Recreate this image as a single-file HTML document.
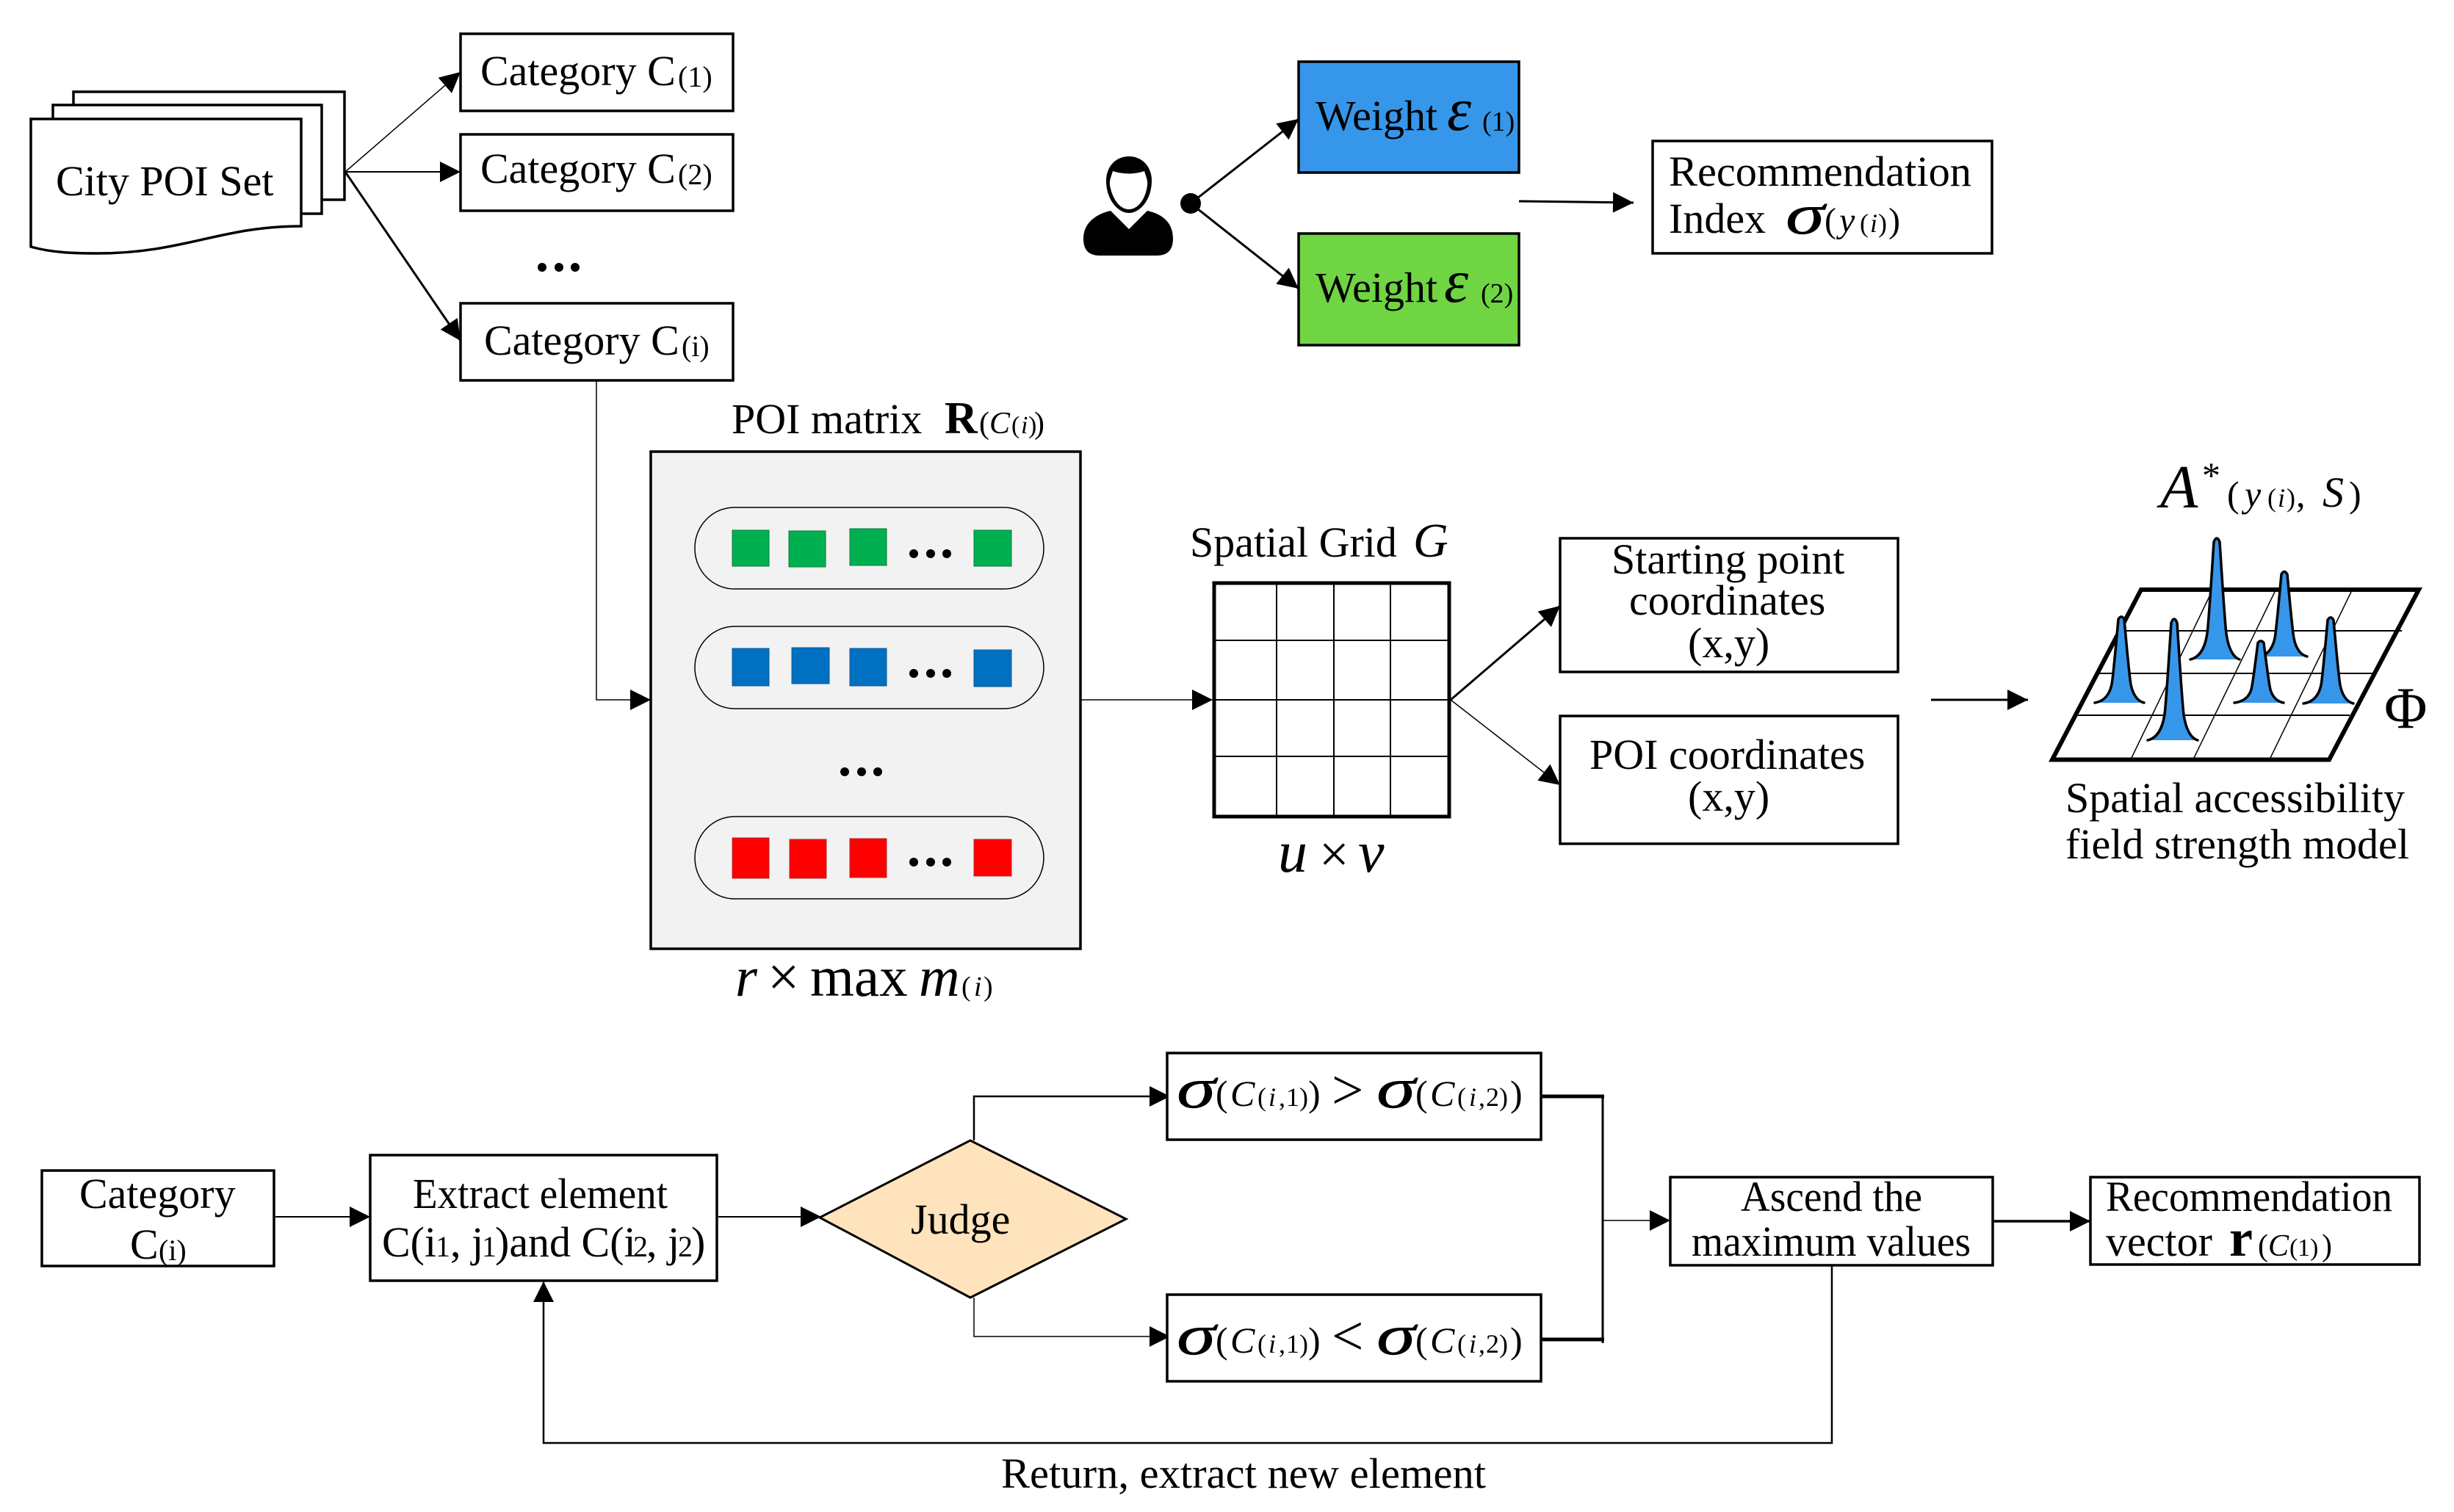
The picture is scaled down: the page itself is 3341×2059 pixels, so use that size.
<!DOCTYPE html>
<html><head><meta charset="utf-8">
<style>
html,body{margin:0;padding:0;background:#fff}
svg{display:block}
text{font-family:"Liberation Serif","Times New Roman",serif;fill:#000;font-size:58px}
.s{font-size:40px}.i{font-style:italic}.b{font-weight:bold}
.m{font-style:italic;font-size:78px;stroke:#000;stroke-width:.5}
.c{font-style:italic;font-size:50px}.p{font-size:50px}.q{font-size:36px}.qi{font-size:36px;font-style:italic}
.box{fill:#fff;stroke:#000;stroke-width:3.5}
.l{fill:none;stroke:#000}
.sp{fill:#3696E9;stroke:#000;stroke-width:3.5;stroke-linecap:round}
.sp path{vector-effect:non-scaling-stroke}
</style></head><body>
<svg width="3341" height="2059" viewBox="0 0 3341 2059" xmlns="http://www.w3.org/2000/svg">
<defs>
<marker id="a" markerUnits="userSpaceOnUse" markerWidth="30" markerHeight="30" refX="29" refY="15" orient="auto" viewBox="0 0 30 30"><path d="M1,1 L29,15 L1,29Z" fill="#000"/></marker>
</defs>
<rect width="3341" height="2059" fill="#fff"/>

<!-- city POI stack -->
<rect class="box" x="100" y="125" width="369" height="147"/>
<rect class="box" x="72" y="143" width="366" height="148"/>
<path class="box" d="M42,162 H410 V308 C300,308 250,345 133,345 C100,345 70,344 42,336Z"/>
<text x="76" y="266">City POI Set</text>

<!-- categories -->
<rect class="box" x="627" y="46" width="371" height="105"/>
<rect class="box" x="627" y="183" width="371" height="104"/>
<rect class="box" x="627" y="413" width="371" height="105"/>
<text x="654" y="116">Category C</text><text class="s" x="923" y="118">(1)</text>
<text x="654" y="249">Category C</text><text class="s" x="923" y="251">(2)</text>
<text x="659" y="483">Category C</text><text class="s" x="928" y="485">(i)</text>
<circle cx="738" cy="364" r="6"/><circle cx="761" cy="364" r="6"/><circle cx="783" cy="364" r="6"/>
<line class="l" stroke-width="1.5" x1="470" y1="234" x2="627" y2="98" marker-end="url(#a)"/>
<line class="l" stroke-width="2" x1="470" y1="234" x2="627" y2="234" marker-end="url(#a)"/>
<line class="l" stroke-width="3" x1="470" y1="234" x2="627" y2="464" marker-end="url(#a)"/>

<!-- user -->
<path d="M1512,287 L1537,312 L1562,287 C1585,292 1597,305 1597,325 C1597,340 1590,348 1575,348 L1497,348 C1482,348 1475,340 1475,325 C1475,305 1490,292 1512,287Z"/>
<path d="M1537,213 C1556,213 1568,228 1568,246 C1568,272 1552,290 1537,290 C1522,290 1506,272 1506,246 C1506,228 1518,213 1537,213Z"/>
<path fill="#fff" d="M1515,233 Q1537,240 1558,233 C1560,240 1563,246 1562,252 C1560,270 1550,285 1537,285 C1524,285 1514,270 1511,252 C1510,246 1513,240 1515,233Z"/>
<circle cx="1621" cy="277" r="14"/>
<line class="l" stroke-width="3" x1="1621" y1="277" x2="1768" y2="162" marker-end="url(#a)"/>
<line class="l" stroke-width="3" x1="1621" y1="277" x2="1768" y2="393" marker-end="url(#a)"/>
<rect x="1768" y="84" width="300" height="151" fill="#3696E9" stroke="#000" stroke-width="3.5"/>
<rect x="1768" y="318" width="300" height="152" fill="#6FD543" stroke="#000" stroke-width="3.5"/>
<text x="1791" y="177">Weight</text><text class="i" style="font-size:84px" x="1970" y="177">ε</text><text class="s" style="font-size:38px" x="2018" y="178">(1)</text>
<text x="1791" y="411">Weight</text><text class="i" style="font-size:84px" x="1966" y="411">ε</text><text class="s" style="font-size:38px" x="2016" y="412">(2)</text>
<line class="l" stroke-width="3" x1="2068" y1="274" x2="2224" y2="276" marker-end="url(#a)"/>
<rect class="box" x="2250" y="192" width="462" height="153"/>
<text x="2272" y="253" textLength="412" lengthAdjust="spacingAndGlyphs">Recommendation</text>
<text x="2272" y="317">Index</text>
<text class="m" x="2431" y="318" textLength="53" lengthAdjust="spacingAndGlyphs">σ</text>
<text style="font-size:48px" x="2484" y="316">(</text><text class="i" style="font-size:48px" x="2504" y="316">y</text><text class="q" x="2532" y="316">(</text><text class="qi" x="2546" y="316">i</text><text class="q" x="2557" y="316">)</text><text style="font-size:48px" x="2571" y="316">)</text>

<!-- POI matrix -->
<text x="996" y="590">POI matrix</text><text class="b" style="font-size:62px" x="1286" y="590">R</text>
<text style="font-size:42px" x="1333" y="590">(</text><text class="i" style="font-size:42px" x="1347" y="590">C</text><text style="font-size:34px" x="1377" y="590">(</text><text class="i" style="font-size:34px" x="1390" y="590">i</text><text style="font-size:34px" x="1400" y="590">)</text><text style="font-size:42px" x="1408" y="590">)</text>
<rect x="886" y="615" width="585" height="677" fill="#f2f2f2" stroke="#000" stroke-width="3.5"/>
<g fill="none" stroke="#000" stroke-width="1.5">
<rect x="946" y="691" width="475" height="111" rx="54" ry="55"/>
<rect x="946" y="853" width="475" height="112" rx="54" ry="56"/>
<rect x="946" y="1112" width="475" height="112" rx="54" ry="56"/>
</g>
<g fill="#00B050" stroke="#0a7a3c" stroke-width="1">
<rect x="997" y="722" width="50" height="49"/><rect x="1074" y="723" width="50" height="49"/><rect x="1157" y="720" width="50" height="50"/><rect x="1326" y="722" width="51" height="49"/>
</g>
<g fill="#0070C0" stroke="#0a5a96" stroke-width="1">
<rect x="997" y="883" width="50" height="51"/><rect x="1078" y="882" width="51" height="49"/><rect x="1157" y="883" width="50" height="51"/><rect x="1326" y="885" width="51" height="50"/>
</g>
<g fill="#FF0000" stroke="#b03030" stroke-width="1">
<rect x="997" y="1141" width="50" height="55"/><rect x="1075" y="1143" width="50" height="53"/><rect x="1157" y="1142" width="50" height="53"/><rect x="1326" y="1143" width="51" height="50"/>
</g>
<g>
<circle cx="1244" cy="754" r="6"/><circle cx="1267" cy="754" r="6"/><circle cx="1289" cy="754" r="6"/>
<circle cx="1244" cy="917" r="6"/><circle cx="1267" cy="917" r="6"/><circle cx="1289" cy="917" r="6"/>
<circle cx="1150" cy="1051" r="6"/><circle cx="1173" cy="1051" r="6"/><circle cx="1195" cy="1051" r="6"/>
<circle cx="1244" cy="1174" r="6"/><circle cx="1267" cy="1174" r="6"/><circle cx="1289" cy="1174" r="6"/>
</g>
<polyline class="l" stroke-width="1.5" points="812,518 812,953 886,953" marker-end="url(#a)"/>
<text class="i" style="font-size:77px" x="1001" y="1356">r</text>
<text style="font-size:77px" x="1045" y="1356">×</text>
<text style="font-size:77px" x="1103" y="1356">max</text>
<text class="i" style="font-size:77px" x="1251" y="1356">m</text>
<text style="font-size:38px" x="1309" y="1356">(</text><text class="i" style="font-size:38px" x="1326" y="1356">i</text><text style="font-size:38px" x="1339" y="1356">)</text>

<!-- grid -->
<line class="l" stroke-width="1.5" x1="1471" y1="953" x2="1651" y2="953" marker-end="url(#a)"/>
<text x="1620" y="758">Spatial Grid</text><text class="i" style="font-size:66px" x="1924" y="758">G</text>
<g stroke="#000" stroke-width="2" fill="none">
<line x1="1738" y1="792" x2="1738" y2="1113"/><line x1="1816" y1="792" x2="1816" y2="1113"/><line x1="1893" y1="792" x2="1893" y2="1113"/>
<line x1="1651" y1="872" x2="1975" y2="872"/><line x1="1651" y1="953" x2="1975" y2="953"/><line x1="1651" y1="1030" x2="1975" y2="1030"/>
</g>
<rect x="1653" y="794" width="320" height="318" fill="none" stroke="#000" stroke-width="5"/>
<text class="i" style="font-size:80px" x="1740" y="1187">u</text>
<text style="font-size:72px" x="1796" y="1187">×</text>
<text class="i" style="font-size:80px" x="1849" y="1187">v</text>
<line class="l" stroke-width="3" x1="1975" y1="953" x2="2124" y2="825" marker-end="url(#a)"/>
<line class="l" stroke-width="1.5" x1="1975" y1="953" x2="2124" y2="1069" marker-end="url(#a)"/>
<rect class="box" x="2124" y="733" width="460" height="182"/>
<rect class="box" x="2124" y="975" width="460" height="174"/>
<text x="2194" y="781">Starting point</text>
<text x="2218" y="837">coordinates</text>
<text x="2298" y="895">(x,y)</text>
<text x="2164" y="1047">POI coordinates</text>
<text x="2298" y="1104">(x,y)</text>
<line class="l" stroke-width="3" x1="2629" y1="953" x2="2761" y2="953" marker-end="url(#a)"/>

<!-- field model -->
<g stroke="#000" fill="none">
<line stroke-width="2" x1="2890" y1="859" x2="3270" y2="859"/>
<line stroke-width="2" x1="2858" y1="917" x2="3230" y2="917"/>
<line stroke-width="2" x1="2829" y1="974" x2="3199" y2="974"/>
<line stroke-width="1.5" x1="3010" y1="808" x2="2902" y2="1032"/>
<line stroke-width="1.5" x1="3097" y1="806" x2="2987" y2="1032"/>
<line stroke-width="1.5" x1="3201" y1="806" x2="3091" y2="1032"/>
<polygon stroke-width="6" points="2915,803 3293,803 3171,1034.5 2794,1034.5"/>
</g>
<g class="sp">
<path transform="translate(3018,898)" d="M-36,0 C-23,-3 -14,-17 -12,-45 C-9,-80 -6,-130 -4,-160 Q0,-170 4,-160 C6,-130 9,-80 12,-45 C14,-17 22,-3 31,0"/>
<path transform="translate(3110,894) scale(1,.7)" d="M-33,0 C-23,-3 -14,-17 -12,-45 C-9,-80 -6,-130 -4,-160 Q0,-170 4,-160 C6,-130 9,-80 12,-45 C14,-17 22,-3 31,0"/>
<path transform="translate(2888,957) scale(1,.71)" d="M-36,0 C-23,-3 -14,-17 -12,-45 C-9,-80 -6,-130 -4,-160 Q0,-170 4,-160 C6,-130 9,-80 12,-45 C14,-17 22,-3 31,0"/>
<path transform="translate(2960,1008)" d="M-36,0 C-23,-3 -14,-17 -12,-45 C-9,-80 -6,-130 -4,-160 Q0,-170 4,-160 C6,-130 9,-80 12,-45 C14,-17 22,-3 32,0"/>
<path transform="translate(3078,957) scale(1,.51)" d="M-36,0 C-23,-3 -14,-17 -12,-45 C-9,-80 -6,-130 -4,-160 Q0,-170 4,-160 C6,-130 9,-80 12,-45 C14,-17 22,-3 31,0"/>
<path transform="translate(3173,958) scale(1,.71)" d="M-37,0 C-23,-3 -14,-17 -12,-45 C-9,-80 -6,-130 -4,-160 Q0,-170 4,-160 C6,-130 9,-80 12,-45 C14,-17 22,-3 31,0"/>
</g>
<text style="font-size:80px" x="3246" y="991">Φ</text>
<text class="i" style="font-size:84px" x="2941" y="691">A</text>
<text style="font-size:50px" x="2998" y="664">*</text>
<text style="font-size:50px" x="3032" y="690">(</text><text class="i" style="font-size:50px" x="3056" y="690">y</text><text style="font-size:36px" x="3087" y="690">(</text><text class="i" style="font-size:36px" x="3101" y="690">i</text><text style="font-size:36px" x="3113" y="690">)</text><text style="font-size:50px" x="3126" y="690">,</text><text class="i" style="font-size:58px" x="3162" y="690">S</text><text style="font-size:50px" x="3198" y="690">)</text>
<text x="2812" y="1106" textLength="462" lengthAdjust="spacingAndGlyphs">Spatial accessibility</text>
<text x="2812" y="1169" textLength="468" lengthAdjust="spacingAndGlyphs">field strength model</text>

<!-- bottom flow -->
<rect class="box" x="57" y="1594" width="316" height="130"/>
<text x="108" y="1645">Category</text><text x="177" y="1714">C</text><text class="s" x="216" y="1716">(i)</text>
<line class="l" stroke-width="2" x1="375" y1="1657" x2="504" y2="1657" marker-end="url(#a)"/>
<rect class="box" x="504" y="1573" width="472" height="171"/>
<text x="562" y="1645" textLength="347" lengthAdjust="spacingAndGlyphs">Extract element</text>
<text x="520" y="1711">C(i</text><text class="s" x="593" y="1711">1</text><text x="613" y="1711">, j</text><text class="s" x="656" y="1711">1</text><text x="674" y="1711">)and C(i</text><text class="s" x="862" y="1711">2</text><text x="880" y="1711">, j</text><text class="s" x="923" y="1711">2</text><text x="941" y="1711">)</text>
<line class="l" stroke-width="2" x1="978" y1="1657" x2="1118" y2="1657" marker-end="url(#a)"/>
<polygon points="1116,1658 1321,1553 1533,1660 1321,1767" fill="#FFE3BC" stroke="#000" stroke-width="3"/>
<text x="1240" y="1680">Judge</text>
<polyline class="l" stroke-width="2.5" points="1326,1553 1326,1493 1593,1493" marker-end="url(#a)"/>
<polyline class="l" stroke-width="1.5" points="1326,1767 1326,1820 1593,1820" marker-end="url(#a)"/>
<rect class="box" x="1589" y="1434" width="509" height="118"/>
<rect class="box" x="1589" y="1763" width="509" height="118"/>

<text class="m" x="1602" y="1508" textLength="53" lengthAdjust="spacingAndGlyphs">σ</text><text class="p" x="1655" y="1506">(</text><text class="c" x="1675" y="1506">C</text><text class="q" x="1712" y="1506">(</text><text class="qi" x="1727" y="1506">i</text><text class="q" x="1741" y="1506">,</text><text class="q" x="1751" y="1506">1</text><text class="q" x="1769" y="1506">)</text><text class="p" x="1781" y="1506">)</text>
<text style="font-size:77px" x="1813" y="1510">&gt;</text>
<text class="m" x="1874" y="1508" textLength="53" lengthAdjust="spacingAndGlyphs">σ</text><text class="p" x="1927" y="1506">(</text><text class="c" x="1947" y="1506">C</text><text class="q" x="1984" y="1506">(</text><text class="qi" x="2000" y="1506">i</text><text class="q" x="2013" y="1506">,</text><text class="q" x="2023" y="1506">2</text><text class="q" x="2041" y="1506">)</text><text class="p" x="2056" y="1506">)</text>

<text class="m" x="1602" y="1844" textLength="53" lengthAdjust="spacingAndGlyphs">σ</text><text class="p" x="1655" y="1842">(</text><text class="c" x="1675" y="1842">C</text><text class="q" x="1712" y="1842">(</text><text class="qi" x="1727" y="1842">i</text><text class="q" x="1741" y="1842">,</text><text class="q" x="1751" y="1842">1</text><text class="q" x="1769" y="1842">)</text><text class="p" x="1781" y="1842">)</text>
<text style="font-size:77px" x="1813" y="1845">&lt;</text>
<text class="m" x="1874" y="1844" textLength="53" lengthAdjust="spacingAndGlyphs">σ</text><text class="p" x="1927" y="1842">(</text><text class="c" x="1947" y="1842">C</text><text class="q" x="1984" y="1842">(</text><text class="qi" x="2000" y="1842">i</text><text class="q" x="2013" y="1842">,</text><text class="q" x="2023" y="1842">2</text><text class="q" x="2041" y="1842">)</text><text class="p" x="2056" y="1842">)</text>

<line class="l" stroke-width="5" x1="2098" y1="1493" x2="2184" y2="1493"/>
<line class="l" stroke-width="5" x1="2098" y1="1824" x2="2184" y2="1824"/>
<line class="l" stroke-width="3" x1="2182" y1="1491" x2="2182" y2="1829"/>
<line class="l" stroke-width="1.5" x1="2182" y1="1662" x2="2274" y2="1662" marker-end="url(#a)"/>
<rect class="box" x="2274" y="1603" width="439" height="120"/>
<text x="2370" y="1649" textLength="247" lengthAdjust="spacingAndGlyphs">Ascend the</text>
<text x="2303" y="1710" textLength="380" lengthAdjust="spacingAndGlyphs">maximum values</text>
<line class="l" stroke-width="3.5" x1="2713" y1="1663" x2="2846" y2="1663" marker-end="url(#a)"/>
<rect class="box" x="2846" y="1603" width="448" height="119"/>
<text x="2867" y="1649" textLength="390" lengthAdjust="spacingAndGlyphs">Recommendation</text>
<text x="2867" y="1710">vector</text>
<text class="b" style="font-size:72px" x="3035" y="1710">r</text>
<text style="font-size:42px" x="3074" y="1710">(</text><text class="i" style="font-size:42px" x="3088" y="1710">C</text><text style="font-size:34px" x="3117" y="1710">(</text><text style="font-size:34px" x="3128" y="1710">1</text><text style="font-size:34px" x="3145" y="1710">)</text><text style="font-size:42px" x="3161" y="1710">)</text>

<polyline class="l" stroke-width="2.5" points="2494,1723 2494,1965 740,1965 740,1745" marker-end="url(#a)"/>
<text x="1363" y="2026" textLength="660" lengthAdjust="spacingAndGlyphs">Return, extract new element</text>
</svg>
</body></html>
